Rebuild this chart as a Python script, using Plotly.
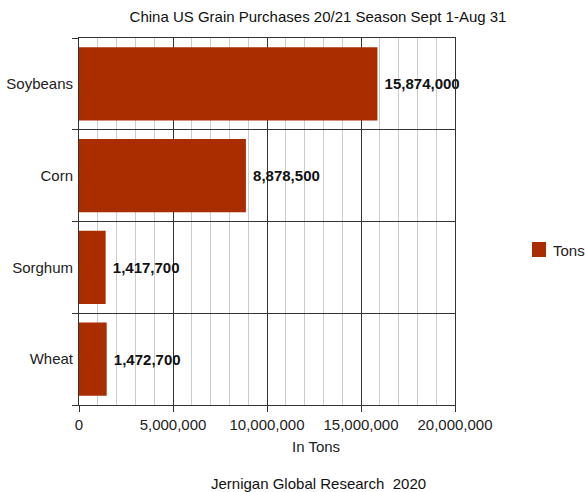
import plotly.graph_objects as go

categories = ["Soybeans", "Corn", "Sorghum", "Wheat"]
tons = [15874000, 8878500, 1417700, 1472700]
labels = ["15,874,000", "8,878,500", "1,417,700", "1,472,700"]
x_ticks = [0, 5000000, 10000000, 15000000, 20000000]
x_tick_text = ["0", "5,000,000", "10,000,000", "15,000,000", "20,000,000"]
series_name = "Tons"

BAR = "#aa2d00"
FONT = "Liberation Sans, Arial, sans-serif"
W, H = 585, 492
PW, PH = 376, 367  # plot area size in px
L, T = 79, 38

fig = go.Figure()
fig.add_trace(go.Bar(
    y=categories, x=tons, orientation="h", name=series_name,
    marker=dict(color=BAR, line=dict(width=0)),
    width=0.8,
    text=["\u00a0" + s for s in labels], textposition="outside", cliponaxis=False,
    textfont=dict(family=FONT, size=15, color="#111111", weight="bold"),
    showlegend=False,
))

fig.update_layout(
    width=W, height=H,
    margin=dict(l=L, r=W - L - PW, t=T, b=H - T - PH, autoexpand=False),
    paper_bgcolor="white", plot_bgcolor="white",
    font=dict(family=FONT, size=15, color="#222222"),
    title=dict(text="China US Grain Purchases 20/21 Season Sept 1-Aug 31",
               x=318/W, xanchor="center", y=1-17/H, yanchor="middle",
               font=dict(size=15, color="#111111")),
    showlegend=False,
    bargap=0.2,
)

fig.update_xaxes(
    range=[0, 20000000], tickvals=x_ticks, ticktext=x_tick_text,
    showgrid=True, gridcolor="#333333", gridwidth=1,
    minor=dict(dtick=1000000, showgrid=True, gridcolor="#cccccc", gridwidth=1, ticks=""),
    ticks="outside", ticklen=6, tickcolor="#333333",
    showline=True, linecolor="#333333", linewidth=1, mirror=True,
    zeroline=False,
    tickfont=dict(size=15, color="#222222"),
)
fig.update_yaxes(
    categoryorder="array", categoryarray=categories[::-1],
    tickson="boundaries", ticks="outside", ticklen=6, tickcolor="#333333",
    showgrid=True, gridcolor="#333333", gridwidth=1,
    showline=True, linecolor="#333333", linewidth=1, mirror=True,
    tickfont=dict(size=15, color="#222222"),
    ticklabelstandoff=2,
)

# legend (drawn manually so it fits at the right edge like the reference)
def px_x(v):
    return (v - L) / PW

def px_y(v):
    return 1 - (v - T) / PH

fig.add_shape(type="rect", xref="paper", yref="paper",
              x0=px_x(532), x1=px_x(546), y0=px_y(257), y1=px_y(242),
              fillcolor=BAR, line=dict(width=0))
fig.add_annotation(text=series_name, xref="paper", yref="paper",
                   x=px_x(551), y=px_y(250), xanchor="left", yanchor="middle",
                   showarrow=False, font=dict(size=15, color="#222222"))

fig.add_annotation(text="In Tons", xref="paper", yref="paper",
                   x=px_x(316), y=px_y(447), xanchor="center", yanchor="middle",
                   showarrow=False, font=dict(size=15, color="#222222"))
fig.add_annotation(text="Jernigan Global Research  2020", xref="paper", yref="paper",
                   x=px_x(318), y=px_y(483), xanchor="center", yanchor="middle",
                   showarrow=False, font=dict(size=15, color="#111111"))

fig.write_html("out.html")
